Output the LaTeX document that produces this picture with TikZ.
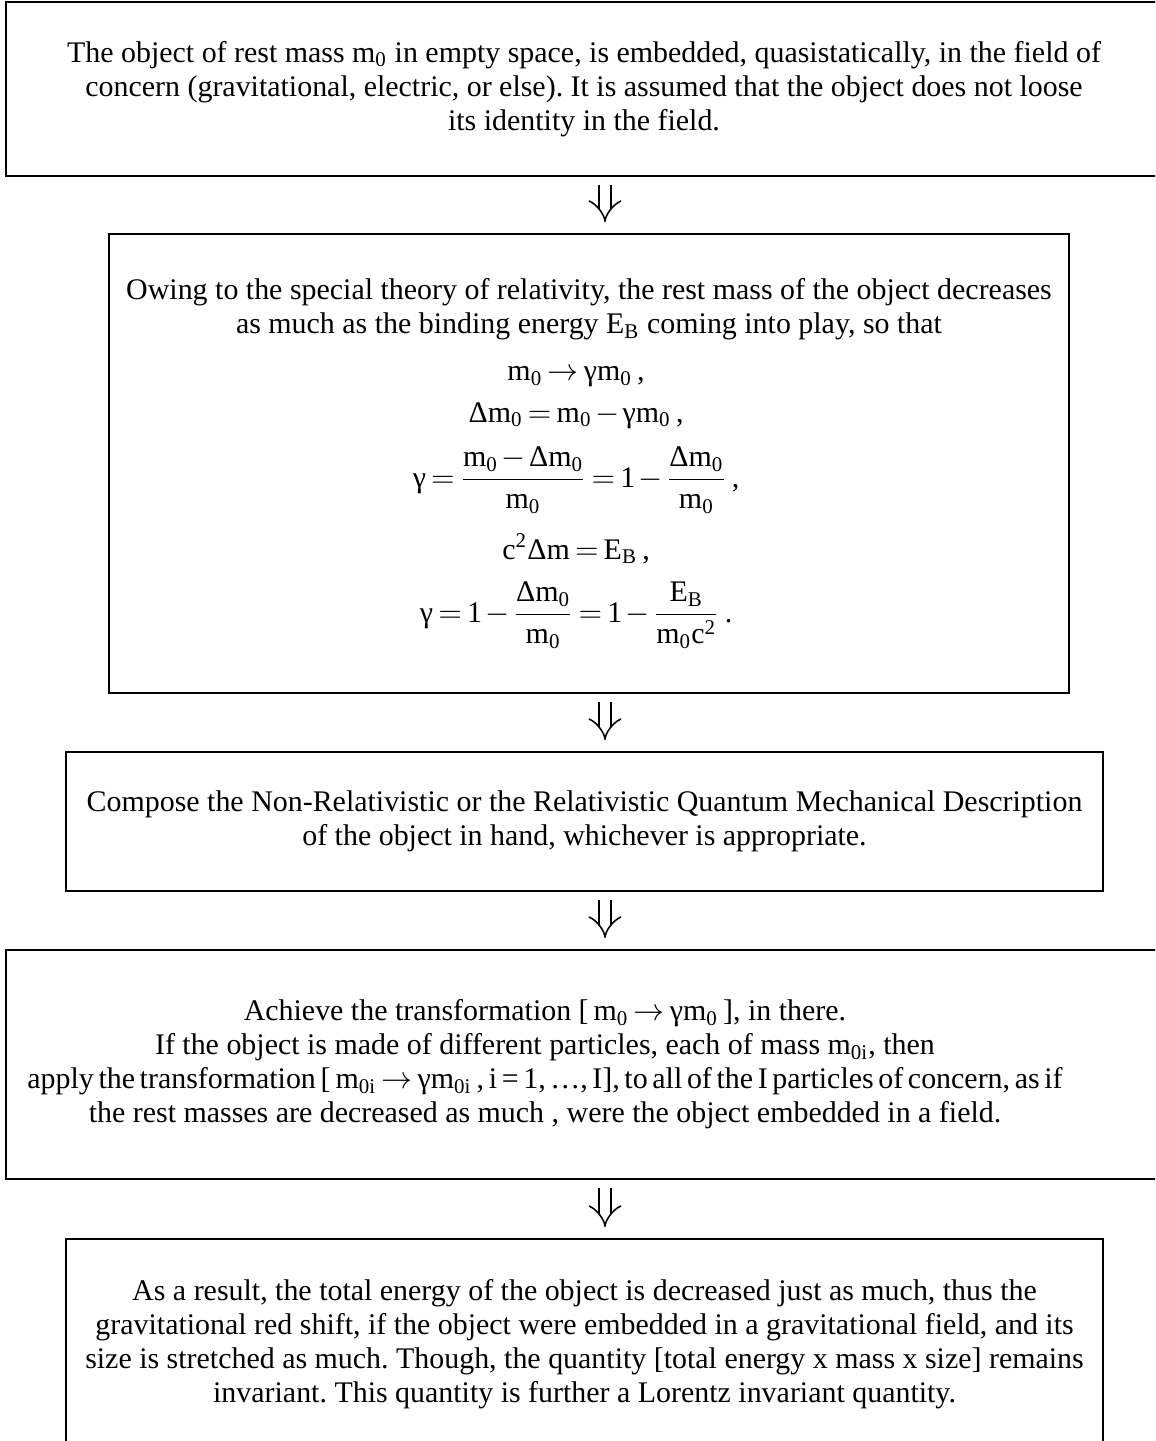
\documentclass[tikz,border=0pt]{standalone}
\usepackage{amsmath}
\usepackage{fontspec}
\setmainfont{Liberation Serif}
\usetikzlibrary{positioning,arrows.meta}

\newlength\px
\setlength\px{0.3876pt}
\newcommand{\mz}{\text{m}_{\text{0}}}
\newcommand{\mzi}{\text{m}_{\text{0i}}}
\newcommand{\eqshift}{\rule{10pt}{0pt}}
\frenchspacing
\medmuskip=2mu
\thickmuskip=3mu

\begin{document}
\begin{tikzpicture}[x=\px, y=-\px,
  box/.style={draw, line width=0.7pt, inner sep=0pt, align=center,
              font=\fontsize{11.6}{13.2}\selectfont},
  txt/.style={inner sep=0pt, align=center, font=\fontsize{11.6}{13.2}\selectfont},
  dnarr/.style={double, double distance=4pt, line width=0.6pt, -{Implies},
                shorten <=3.1pt, shorten >=4.3pt},
]
\useasboundingbox (0,0) rectangle (1155,1441);
\clip (0,0) rectangle (1155,1441);

\node[box, minimum width=1156\px, minimum height=174\px] (b1) at (584,89)
  {The object of rest mass m\textsubscript{0} in empty space, is embedded, quasistatically, in the field of\\
   concern (gravitational, electric, or else). It is assumed that the object does not loose\\
   its identity in the field.};

\node[box, minimum width=960\px, minimum height=459\px] (b2) at (589,463.5)
  {Owing to the special theory of relativity, the rest mass of the object decreases\\
   as much as the binding energy \(\text{E}_{\text{B}}\) coming into play, so that\\[5pt]
   \(\mz\to\text{γ}\mz\,\text{,}\)\eqshift\\[3pt]
   \(\text{Δ}\mz=\mz-\text{γ}\mz\,\text{,}\)\eqshift\\[6pt]
   \(\text{γ}=\dfrac{\mz-\text{Δ}\mz}{\mz}=\text{1}-\dfrac{\text{Δ}\mz}{\mz}\,\text{,}\)\eqshift\\[7pt]
   \(\text{c}^{\text{2}}\text{Δm}=\text{E}_{\text{B}}\,\text{,}\)\eqshift\\[6pt]
   \(\text{γ}=\text{1}-\dfrac{\text{Δ}\mz}{\mz}=\text{1}-\dfrac{\text{E}_{\text{B}}}{\mz\text{c}^{\text{2}}}\,\text{.}\)\eqshift};

\node[box, minimum width=1037\px, minimum height=139\px] (b3) at (584.5,821.5)
  {Compose the Non-Relativistic or the Relativistic Quantum Mechanical Description\\
   of the object in hand, whichever is appropriate.};

% text of this box sits left of its centre
\node[box, minimum width=1164\px, minimum height=229\px] (b4) at (588,1064.5) {};
\node[txt] (t4) at (545,1064.5)
  {Achieve the transformation [\,\(\mz\to\text{γ}\mz\)\,], in there.\\
   If the object is made of different particles, each of mass m\textsubscript{0i}, then\\
   {\spaceskip=0.62\fontdimen2\font apply the transformation [\,\(\mzi\to\text{γ}\mzi\)\,, i = 1, …, I], to all of the I particles of concern, as if}\\
   the rest masses are decreased as much , were the object embedded in a field.};

\node[box, minimum width=1037\px, minimum height=211\px] (b5) at (584.5,1344.5)
  {As a result, the total energy of the object is decreased just as much, thus the\\
   gravitational red shift, if the object were embedded in a gravitational field, and its\\
   size is stretched as much. Though, the quantity [total energy x mass x size] remains\\
   invariant. This quantity is further a Lorentz invariant quantity.};

\coordinate (ax) at (605,0);
\foreach \a/\b in {b1/b2, b2/b3, b3/b4, b4/b5}{
  \draw[dnarr] (\a.south -| ax) -- (\b.north -| ax);
}
\end{tikzpicture}
\end{document}
